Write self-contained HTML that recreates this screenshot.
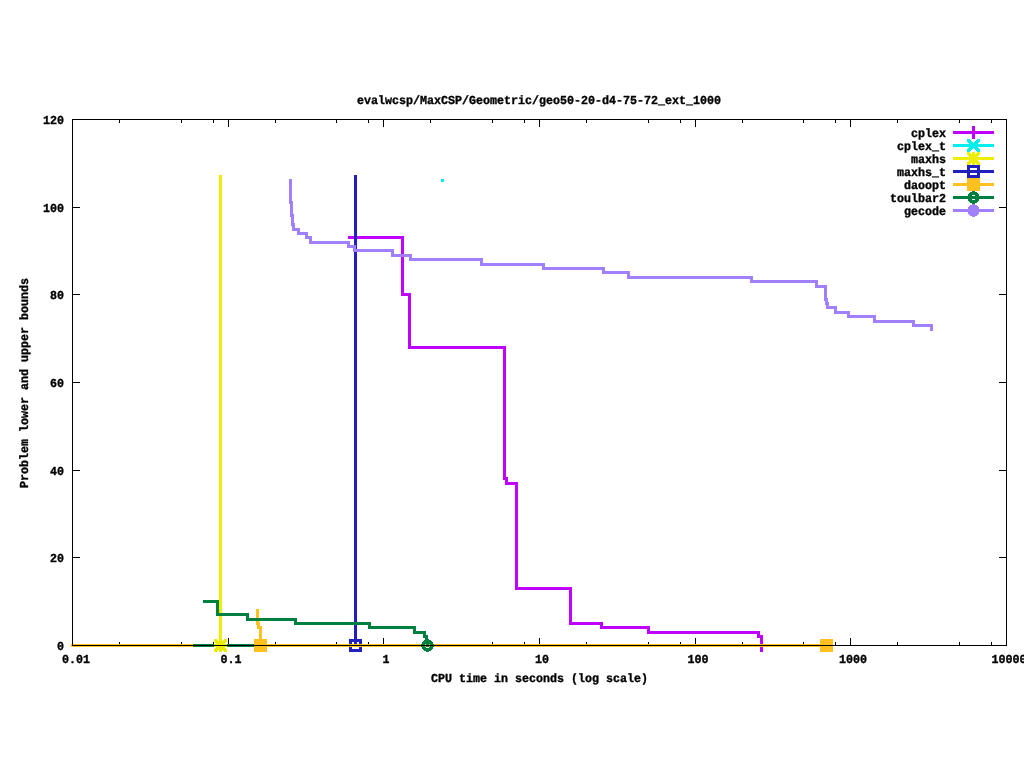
<!DOCTYPE html>
<html><head><meta charset="utf-8"><title>plot</title>
<style>html,body{margin:0;padding:0;background:#fff;overflow:hidden}svg{display:block}</style>
</head><body>
<svg width="1024" height="768" viewBox="0 0 1024 768">
<rect width="1024" height="768" fill="#fff"/>
<g shape-rendering="crispEdges" fill="#000">
<rect x="72" y="119" width="935" height="1" fill="#000"/>
<rect x="72" y="645" width="935" height="1" fill="#000"/>
<rect x="72" y="119" width="1" height="527" fill="#000"/>
<rect x="1006" y="119" width="1" height="527" fill="#000"/>
<rect x="119" y="642" width="1" height="3" fill="#000"/>
<rect x="119" y="120" width="1" height="3" fill="#000"/>
<rect x="181" y="642" width="1" height="3" fill="#000"/>
<rect x="181" y="120" width="1" height="3" fill="#000"/>
<rect x="213" y="642" width="1" height="3" fill="#000"/>
<rect x="213" y="120" width="1" height="3" fill="#000"/>
<rect x="228" y="638" width="1" height="7" fill="#000"/>
<rect x="228" y="120" width="1" height="7" fill="#000"/>
<rect x="275" y="642" width="1" height="3" fill="#000"/>
<rect x="275" y="120" width="1" height="3" fill="#000"/>
<rect x="336" y="642" width="1" height="3" fill="#000"/>
<rect x="336" y="120" width="1" height="3" fill="#000"/>
<rect x="368" y="642" width="1" height="3" fill="#000"/>
<rect x="368" y="120" width="1" height="3" fill="#000"/>
<rect x="383" y="638" width="1" height="7" fill="#000"/>
<rect x="383" y="120" width="1" height="7" fill="#000"/>
<rect x="430" y="642" width="1" height="3" fill="#000"/>
<rect x="430" y="120" width="1" height="3" fill="#000"/>
<rect x="492" y="642" width="1" height="3" fill="#000"/>
<rect x="492" y="120" width="1" height="3" fill="#000"/>
<rect x="524" y="642" width="1" height="3" fill="#000"/>
<rect x="524" y="120" width="1" height="3" fill="#000"/>
<rect x="539" y="638" width="1" height="7" fill="#000"/>
<rect x="539" y="120" width="1" height="7" fill="#000"/>
<rect x="586" y="642" width="1" height="3" fill="#000"/>
<rect x="586" y="120" width="1" height="3" fill="#000"/>
<rect x="648" y="642" width="1" height="3" fill="#000"/>
<rect x="648" y="120" width="1" height="3" fill="#000"/>
<rect x="680" y="642" width="1" height="3" fill="#000"/>
<rect x="680" y="120" width="1" height="3" fill="#000"/>
<rect x="695" y="638" width="1" height="7" fill="#000"/>
<rect x="695" y="120" width="1" height="7" fill="#000"/>
<rect x="742" y="642" width="1" height="3" fill="#000"/>
<rect x="742" y="120" width="1" height="3" fill="#000"/>
<rect x="803" y="642" width="1" height="3" fill="#000"/>
<rect x="803" y="120" width="1" height="3" fill="#000"/>
<rect x="835" y="642" width="1" height="3" fill="#000"/>
<rect x="835" y="120" width="1" height="3" fill="#000"/>
<rect x="850" y="638" width="1" height="7" fill="#000"/>
<rect x="850" y="120" width="1" height="7" fill="#000"/>
<rect x="897" y="642" width="1" height="3" fill="#000"/>
<rect x="897" y="120" width="1" height="3" fill="#000"/>
<rect x="959" y="642" width="1" height="3" fill="#000"/>
<rect x="959" y="120" width="1" height="3" fill="#000"/>
<rect x="991" y="642" width="1" height="3" fill="#000"/>
<rect x="991" y="120" width="1" height="3" fill="#000"/>
<rect x="73" y="557" width="7" height="1" fill="#000"/>
<rect x="999" y="557" width="7" height="1" fill="#000"/>
<rect x="73" y="470" width="7" height="1" fill="#000"/>
<rect x="999" y="470" width="7" height="1" fill="#000"/>
<rect x="73" y="382" width="7" height="1" fill="#000"/>
<rect x="999" y="382" width="7" height="1" fill="#000"/>
<rect x="73" y="294" width="7" height="1" fill="#000"/>
<rect x="999" y="294" width="7" height="1" fill="#000"/>
<rect x="73" y="207" width="7" height="1" fill="#000"/>
<rect x="999" y="207" width="7" height="1" fill="#000"/>
</g>
<g shape-rendering="crispEdges">
<path d="M348,237.5 L402.5,237.5 L402.5,294.5 L409.5,294.5 L409.5,347.5 L504.5,347.5 L504.5,478.5 L506.5,478.5 L506.5,483.5 L516.5,483.5 L516.5,588.5 L570.5,588.5 L570.5,623.5 L601.5,623.5 L601.5,627.5 L648.5,627.5 L648.5,632.5 L758.5,632.5 L758.5,636.5 L761.5,636.5 L761.5,652" stroke="#c000ff" stroke-width="3" fill="none" stroke-linejoin="miter" stroke-linecap="butt" />
<rect x="441" y="179" width="3" height="3" fill="#00eeee"/>
<rect x="219" y="175" width="3" height="471" fill="#eeee00"/>
<rect x="354" y="175" width="3" height="471" fill="#2020c0"/>
</g>
<rect x="350.5" y="640.5" width="10" height="10" fill="none" stroke="#2020c0" stroke-width="3" shape-rendering="crispEdges"/>
<g shape-rendering="crispEdges">
<rect x="71" y="644" width="756" height="3" fill="#ffc020"/>
<path d="M257.5,609 L257.5,623.5 L258.5,623.5 L258.5,627.5 L260.5,627.5 L260.5,645.5" stroke="#ffc020" stroke-width="3" fill="none" stroke-linejoin="miter" stroke-linecap="butt" />
</g>
<g shape-rendering="crispEdges">
<rect x="254" y="639" width="13" height="13" fill="#ffc020"/>
</g>
<g shape-rendering="crispEdges">
<rect x="820" y="639" width="13" height="13" fill="#ffc020"/>
</g>
<g shape-rendering="crispEdges">
<rect x="193" y="644" width="61" height="3" fill="#008040"/>
<path d="M203,601.5 L217.5,601.5 L217.5,614.5 L247.5,614.5 L247.5,619.5 L295.5,619.5 L295.5,623.5 L369.5,623.5 L369.5,627.5 L414.5,627.5 L414.5,632.5 L424.5,632.5 L424.5,636.5 L426.5,636.5 L426.5,641.5 L427.5,641.5 L427.5,647" stroke="#008040" stroke-width="3" fill="none" stroke-linejoin="miter" stroke-linecap="butt" />
</g>
<path transform="translate(427 645)" d="M-1,-6 H2 V-5 H4 V-4 H5 V-3 H6 V-1 H7 V2 H6 V4 H5 V5 H4 V6 H2 V7 H-1 V6 H-3 V5 H-4 V4 H-5 V2 H-6 V-1 H-5 V-3 H-4 V-4 H-3 V-5 H-1 Z M-1,-2 H2 V-1 H3 V2 H2 V3 H-1 V2 H-2 V-1 H-1 Z" fill="#008040" fill-rule="evenodd" shape-rendering="crispEdges"/>
<path d="M214,639 H216.5 L227,649.5 V652 H224.5 L214,641.5 Z M227,639 V641.5 L216.5,652 H214 V649.5 L224.5,639 Z" fill="#eeee00" shape-rendering="crispEdges"/>
<g shape-rendering="crispEdges">
<rect x="219" y="639" width="3" height="13" fill="#eeee00"/>
<rect x="214" y="644" width="13" height="3" fill="#eeee00"/>
</g>
<g shape-rendering="crispEdges">
<path d="M290.5,179 L290.5,202.5 L291.5,202.5 L291.5,215.5 L292.5,215.5 L292.5,224.5 L293.5,224.5 L293.5,229.5 L298.5,229.5 L298.5,233.5 L306.5,233.5 L306.5,237.5 L310.5,237.5 L310.5,242.5 L348.5,242.5 L348.5,246.5 L354.5,246.5 L354.5,250.5 L392.5,250.5 L392.5,255.5 L410.5,255.5 L410.5,259.5 L481.5,259.5 L481.5,264.5 L543.5,264.5 L543.5,268.5 L603.5,268.5 L603.5,272.5 L628.5,272.5 L628.5,277.5 L751.5,277.5 L751.5,281.5 L816.5,281.5 L816.5,286.5 L825.5,286.5 L825.5,299.5 L826.5,299.5 L826.5,303.5 L827.5,303.5 L827.5,307.5 L835.5,307.5 L835.5,312.5 L848.5,312.5 L848.5,316.5 L874.5,316.5 L874.5,321.5 L913.5,321.5 L913.5,325.5 L931.5,325.5 L931.5,331" stroke="#a080ff" stroke-width="3" fill="none" stroke-linejoin="miter" stroke-linecap="butt" />
</g>
<g shape-rendering="crispEdges">
<rect x="953" y="131" width="41" height="3" fill="#c000ff"/>
</g>
<g shape-rendering="crispEdges">
<rect x="972" y="126" width="3" height="13" fill="#c000ff"/>
<rect x="967" y="131" width="13" height="3" fill="#c000ff"/>
</g>
<g shape-rendering="crispEdges">
<rect x="953" y="144" width="41" height="3" fill="#00eeee"/>
</g>
<path d="M967,139 H969.5 L980,149.5 V152 H977.5 L967,141.5 Z M980,139 V141.5 L969.5,152 H967 V149.5 L977.5,139 Z" fill="#00eeee" shape-rendering="crispEdges"/>
<g shape-rendering="crispEdges">
<rect x="953" y="157" width="41" height="3" fill="#eeee00"/>
</g>
<path d="M967,152 H969.5 L980,162.5 V165 H977.5 L967,154.5 Z M980,152 V154.5 L969.5,165 H967 V162.5 L977.5,152 Z" fill="#eeee00" shape-rendering="crispEdges"/>
<g shape-rendering="crispEdges">
<rect x="972" y="152" width="3" height="13" fill="#eeee00"/>
<rect x="967" y="157" width="13" height="3" fill="#eeee00"/>
</g>
<g shape-rendering="crispEdges">
<rect x="953" y="170" width="41" height="3" fill="#2020c0"/>
</g>
<rect x="968.5" y="166.5" width="10" height="10" fill="none" stroke="#2020c0" stroke-width="3" shape-rendering="crispEdges"/>
<g shape-rendering="crispEdges">
<rect x="953" y="183" width="41" height="3" fill="#ffc020"/>
</g>
<g shape-rendering="crispEdges">
<rect x="967" y="178" width="13" height="13" fill="#ffc020"/>
</g>
<g shape-rendering="crispEdges">
<rect x="953" y="196" width="41" height="3" fill="#008040"/>
</g>
<path transform="translate(973 197)" d="M-1,-6 H2 V-5 H4 V-4 H5 V-3 H6 V-1 H7 V2 H6 V4 H5 V5 H4 V6 H2 V7 H-1 V6 H-3 V5 H-4 V4 H-5 V2 H-6 V-1 H-5 V-3 H-4 V-4 H-3 V-5 H-1 Z M-1,-2 H2 V-1 H3 V2 H2 V3 H-1 V2 H-2 V-1 H-1 Z" fill="#008040" fill-rule="evenodd" shape-rendering="crispEdges"/>
<g shape-rendering="crispEdges">
<rect x="953" y="209" width="41" height="3" fill="#a080ff"/>
</g>
<path transform="translate(973 210)" d="M-1,-6 H2 V-5 H4 V-4 H5 V-3 H6 V-1 H7 V2 H6 V4 H5 V5 H4 V6 H2 V7 H-1 V6 H-3 V5 H-4 V4 H-5 V2 H-6 V-1 H-5 V-3 H-4 V-4 H-3 V-5 H-1 Z" fill="#a080ff" shape-rendering="crispEdges"/>
<g shape-rendering="crispEdges" fill="#000">
<rect x="72" y="119" width="935" height="1" fill="#000"/>
<rect x="72" y="645" width="935" height="1" fill="#000"/>
<rect x="72" y="119" width="1" height="527" fill="#000"/>
<rect x="1006" y="119" width="1" height="527" fill="#000"/>
</g>
<g font-family='"Liberation Mono", "DejaVu Sans Mono", monospace' font-weight="bold" font-size="12.2" fill="#000" stroke="#000" stroke-width="0.35" stroke-linejoin="round" text-rendering="geometricPrecision">
<text x="357" y="104" textLength="364" lengthAdjust="spacingAndGlyphs">evalwcsp/MaxCSP/Geometric/geo50-20-d4-75-72_ext_1000</text>
<text x="57" y="650" textLength="7" lengthAdjust="spacingAndGlyphs">0</text>
<text x="50" y="562" textLength="14" lengthAdjust="spacingAndGlyphs">20</text>
<text x="50" y="475" textLength="14" lengthAdjust="spacingAndGlyphs">40</text>
<text x="50" y="387" textLength="14" lengthAdjust="spacingAndGlyphs">60</text>
<text x="50" y="299" textLength="14" lengthAdjust="spacingAndGlyphs">80</text>
<text x="43" y="212" textLength="21" lengthAdjust="spacingAndGlyphs">100</text>
<text x="43" y="124" textLength="21" lengthAdjust="spacingAndGlyphs">120</text>
<text x="62" y="663" textLength="28" lengthAdjust="spacingAndGlyphs">0.01</text>
<text x="220.5" y="663" textLength="21" lengthAdjust="spacingAndGlyphs">0.1</text>
<text x="382.5" y="663" textLength="7" lengthAdjust="spacingAndGlyphs">1</text>
<text x="535" y="663" textLength="14" lengthAdjust="spacingAndGlyphs">10</text>
<text x="687.5" y="663" textLength="21" lengthAdjust="spacingAndGlyphs">100</text>
<text x="839" y="663" textLength="28" lengthAdjust="spacingAndGlyphs">1000</text>
<text x="991.5" y="663" textLength="35" lengthAdjust="spacingAndGlyphs">10000</text>
<text x="431" y="682" textLength="217" lengthAdjust="spacingAndGlyphs">CPU time in seconds (log scale)</text>
<text x="28" y="488" textLength="210" lengthAdjust="spacingAndGlyphs" transform="rotate(-90 28 488)">Problem lower and upper bounds</text>
<text x="911" y="137" textLength="35" lengthAdjust="spacingAndGlyphs">cplex</text>
<text x="897" y="150" textLength="49" lengthAdjust="spacingAndGlyphs">cplex_t</text>
<text x="911" y="163" textLength="35" lengthAdjust="spacingAndGlyphs">maxhs</text>
<text x="897" y="176" textLength="49" lengthAdjust="spacingAndGlyphs">maxhs_t</text>
<text x="904" y="189" textLength="42" lengthAdjust="spacingAndGlyphs">daoopt</text>
<text x="890" y="202" textLength="56" lengthAdjust="spacingAndGlyphs">toulbar2</text>
<text x="904" y="215" textLength="42" lengthAdjust="spacingAndGlyphs">gecode</text>
</g>
</svg>
</body></html>
